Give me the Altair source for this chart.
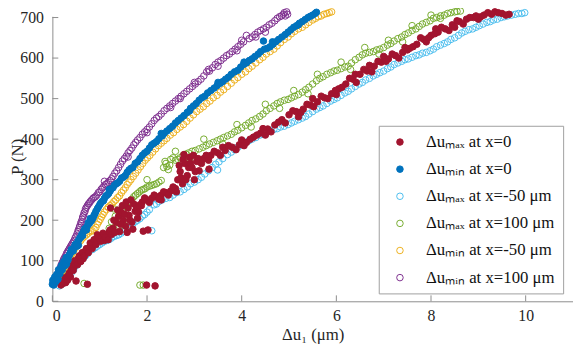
import altair as alt
import pandas as pd

labels = ["Δuₘₐₓ at x=0", "Δuₘᵢₙ at x=0", "Δuₘₐₓ at x=-50 μm",
          "Δuₘₐₓ at x=100 μm", "Δuₘᵢₙ at x=-50 μm", "Δuₘᵢₙ at x=100 μm"]
colors = ["#A2142F", "#0072BD", "#4DBEEE", "#77AC30", "#EDB120", "#7E2F8E"]
fills = ["#A2142F", "#0072BD", "transparent", "transparent", "transparent", "transparent"]
sizes = [44, 44, 20, 20, 20, 20]

x_ticks = [0, 2, 4, 6, 8, 10]
y_ticks = [0, 100, 200, 300, 400, 500, 600, 700]

# Δu_max at x=0 (dark red, filled)
red_pts = [
    [0.18, 40], [0.22, 44], [0.25, 50], [0.28, 46], [0.30, 56], [0.33, 62], [0.36, 70], [0.38, 60],
    [0.40, 78], [0.42, 88], [0.45, 84], [0.48, 92], [0.52, 98], [0.55, 106], [0.58, 102], [0.62, 112],
    [0.65, 105], [0.66, 118], [0.70, 124], [0.74, 126], [0.78, 132], [0.82, 138], [0.86, 142], [0.90, 148],
    [0.95, 150], [0.95, 164], [1.00, 156], [1.05, 160], [1.10, 150], [1.15, 160], [1.20, 170],
    [1.28, 180], [1.35, 195], [1.40, 210], [1.45, 220], [1.50, 200], [1.55, 185], [1.60, 230], [1.62, 212],
    [1.68, 195], [1.72, 240], [1.75, 222], [1.80, 205], [1.85, 238], [1.42, 172], [1.58, 170], [1.70, 178],
    [1.90, 245], [2.00, 250], [2.10, 254], [2.20, 258], [2.30, 262], [2.30, 250], [2.40, 268], [2.50, 272],
    [2.60, 278], [2.65, 300], [2.70, 320], [2.75, 290], [2.80, 340], [2.85, 310], [2.90, 355], [2.95, 330],
    [3.00, 300], [3.05, 345], [2.78, 362], [3.10, 322], [3.20, 352], [3.35, 360], [3.50, 366], [3.60, 380],
    [3.65, 372], [3.80, 380], [3.95, 386], [4.00, 398], [4.10, 392], [4.25, 405], [4.40, 415], [4.50, 410],
    [4.55, 425], [4.70, 435], [4.85, 448], [5.00, 460], [5.15, 468], [5.20, 455], [5.30, 474], [5.45, 484],
    [5.50, 500], [5.60, 492], [5.75, 502], [5.90, 512], [6.00, 510], [6.05, 524], [6.20, 536], [6.35, 548],
    [6.40, 560], [6.50, 560], [6.65, 568], [6.70, 582], [6.80, 580], [6.95, 590], [7.00, 604], [7.10, 598],
    [7.25, 606], [7.40, 614], [7.50, 620], [7.55, 624], [7.70, 634], [7.85, 646], [7.90, 640], [8.00, 656],
    [8.10, 672], [8.15, 664], [8.30, 672], [8.45, 682], [8.50, 676], [8.60, 690], [8.75, 696], [8.90, 700],
    [9.00, 696], [9.05, 702], [9.20, 712], [9.35, 714], [9.50, 710], [9.65, 708],
    [0.50, 50], [0.74, 42], [1.99, 40], [2.17, 38], [1.92, 173], [2.02, 176], [1.23, 230], [3.31, 326],
    [0.20, 48], [0.27, 58], [0.32, 52], [0.35, 64], [0.44, 76], [0.47, 100], [0.53, 90], [0.57, 112],
    [0.60, 98], [0.63, 120], [0.68, 112], [0.72, 130], [0.76, 120], [0.80, 144], [0.84, 130], [0.88, 152],
    [0.92, 140], [0.97, 158], [1.02, 148], [1.07, 168], [1.12, 158], [1.18, 152], [1.22, 176], [1.25, 165],
    [1.30, 200], [1.32, 170], [1.38, 225], [1.44, 190], [1.48, 236], [1.52, 215], [1.56, 245], [1.64, 200],
    [1.66, 250], [1.78, 230], [1.82, 220], [1.88, 236], [1.95, 255], [2.05, 244], [2.15, 262], [2.25, 252],
    [2.35, 270], [2.45, 262], [2.55, 282], [2.62, 270], [2.68, 335], [2.72, 305], [2.76, 350], [2.82, 300],
    [2.88, 330], [2.92, 340], [2.98, 360], [3.02, 320], [3.08, 352], [3.15, 340], [3.25, 360], [3.30, 348],
    [3.42, 370], [3.55, 360], [3.72, 384], [3.88, 374], [4.05, 384], [4.18, 400], [4.32, 410], [4.45, 426],
    [4.62, 418], [4.78, 442], [4.92, 440], [5.08, 470], [5.25, 466], [5.38, 486], [5.52, 480], [5.68, 506],
    [5.82, 500], [5.98, 520], [6.12, 528], [6.28, 550], [6.42, 540], [6.58, 572], [6.75, 566], [6.88, 592],
    [7.05, 592], [7.18, 610], [7.32, 600], [7.45, 626], [7.62, 628], [7.78, 650], [7.95, 650], [8.08, 660],
    [8.22, 676], [8.38, 668], [8.55, 692], [8.68, 684], [8.82, 700], [8.95, 704], [9.12, 706], [9.28, 708],
    [9.42, 712], [9.58, 706],
]

# Δu_min at x=0 (blue, filled)
blue_pts = [
    [0.00, 42], [0.02, 48], [0.04, 44], [0.06, 52], [0.08, 58], [0.10, 62], [0.12, 55], [0.14, 70],
    [0.17, 76], [0.20, 82], [0.22, 90], [0.25, 94], [0.28, 100], [0.30, 92], [0.31, 106], [0.35, 112],
    [0.38, 120], [0.42, 126], [0.46, 132], [0.50, 140], [0.54, 148], [0.55, 138], [0.58, 156], [0.62, 165],
    [0.66, 172], [0.70, 180], [0.74, 186], [0.78, 192], [0.80, 204], [0.82, 198], [0.86, 206], [0.90, 216],
    [0.95, 228], [1.00, 238], [1.05, 246], [1.10, 254], [1.16, 262], [1.20, 276], [1.22, 272], [1.28, 280],
    [1.35, 290], [1.42, 296], [1.50, 306], [1.58, 318], [1.66, 328], [1.70, 330], [1.75, 340], [1.85, 352],
    [1.95, 366], [2.05, 378], [2.15, 390], [2.25, 401], [2.30, 414], [2.36, 414], [2.48, 426], [2.60, 440],
    [2.72, 452], [2.85, 466], [2.90, 470], [2.98, 482], [3.10, 496], [3.22, 506], [3.35, 520], [3.48, 532],
    [3.50, 540], [3.60, 542], [3.72, 553], [3.85, 566], [3.98, 578], [4.05, 590], [4.10, 588], [4.22, 598],
    [4.35, 610], [4.46, 642], [4.48, 622], [4.60, 628], [4.65, 640], [4.72, 640], [4.85, 652], [4.98, 664],
    [5.10, 676], [5.20, 682], [5.22, 686], [5.34, 695], [5.45, 703], [5.55, 710],
    [0.01, 52], [0.03, 40], [0.05, 60], [0.07, 48], [0.09, 66], [0.11, 54], [0.13, 78], [0.16, 68],
    [0.19, 88], [0.21, 78], [0.24, 98], [0.27, 88], [0.29, 108], [0.33, 102], [0.37, 116], [0.40, 128],
    [0.44, 124], [0.48, 140], [0.52, 136], [0.56, 152], [0.60, 158], [0.64, 162], [0.68, 178], [0.72, 176],
    [0.76, 194], [0.84, 202], [0.88, 212], [0.92, 222], [0.97, 232], [1.02, 242], [1.08, 248], [1.13, 260],
    [1.19, 266], [1.25, 278], [1.31, 286], [1.38, 292], [1.46, 304], [1.54, 310], [1.62, 324], [1.80, 344],
    [1.90, 360], [2.00, 370], [2.10, 386], [2.20, 394], [2.32, 408], [2.42, 420], [2.54, 432], [2.66, 446],
    [2.78, 458], [2.92, 476], [3.04, 488], [3.16, 502], [3.28, 514], [3.42, 526], [3.55, 538], [3.66, 548],
    [3.78, 560], [3.92, 570], [4.04, 584], [4.16, 594], [4.28, 604], [4.40, 616], [4.54, 624], [4.66, 634],
    [4.78, 646], [4.92, 658], [5.04, 670], [5.16, 680], [5.28, 690], [5.40, 700], [5.50, 706], [5.58, 713],
]

# Δu_max at x=-50 μm (light blue, open)
lightblue_pts = [
    [0.15, 38], [0.25, 50], [0.35, 64], [0.45, 78], [0.55, 94], [0.65, 106], [0.75, 118], [0.85, 128],
    [0.95, 136], [1.05, 144], [1.15, 150], [1.25, 156], [1.35, 162], [1.45, 168], [1.55, 176], [1.65, 186],
    [1.75, 196], [1.85, 204], [1.95, 214], [2.05, 226], [2.15, 238], [2.25, 246], [2.40, 254], [2.55, 262],
    [2.70, 270], [2.85, 282], [3.00, 294], [3.15, 306], [3.30, 322], [3.45, 338], [3.60, 352], [3.70, 362],
    [3.85, 374], [4.00, 386], [4.15, 396], [4.30, 404], [4.45, 412], [4.60, 420], [4.75, 426], [4.90, 432],
    [5.05, 440], [5.20, 448], [5.35, 456], [5.50, 468], [5.65, 478], [5.80, 488], [5.95, 498], [6.10, 508],
    [6.25, 518], [6.40, 530], [6.55, 540], [6.70, 550], [6.85, 560], [7.00, 568], [7.15, 578], [7.30, 588],
    [7.45, 596], [7.60, 602], [7.75, 608], [7.90, 614], [8.05, 622], [8.20, 632], [8.35, 640], [8.50, 650],
    [8.65, 662], [8.80, 670], [8.95, 676], [9.10, 684], [9.25, 690], [9.40, 696], [9.55, 702], [9.70, 706],
    [9.85, 710], [9.98, 712], [2.10, 174], [3.49, 324],
    [0.20, 42], [0.30, 58], [0.40, 70], [0.50, 88], [0.60, 100], [0.70, 112], [0.80, 126], [0.90, 132],
    [1.00, 140], [1.10, 148], [1.20, 152], [1.30, 160], [1.40, 164], [1.50, 172], [1.60, 180], [1.70, 192],
    [1.80, 200], [1.90, 210], [2.00, 220], [2.20, 240], [2.32, 250], [2.48, 256], [2.62, 268], [2.78, 276],
    [2.92, 290], [3.08, 300], [3.22, 314], [3.38, 330], [3.52, 344], [3.78, 368], [3.92, 380], [4.08, 392],
    [4.22, 400], [4.38, 410], [4.52, 416], [4.68, 424], [4.82, 430], [4.98, 436], [5.12, 444], [5.28, 452],
    [5.42, 462], [5.58, 474], [5.72, 482], [5.88, 494], [6.02, 502], [6.18, 514], [6.32, 524], [6.48, 536],
    [6.62, 546], [6.78, 556], [6.92, 564], [7.08, 574], [7.22, 584], [7.38, 592], [7.52, 598], [7.68, 606],
    [7.82, 612], [7.98, 618], [8.12, 628], [8.28, 636], [8.42, 646], [8.58, 656], [8.72, 666], [8.88, 672],
    [9.02, 680], [9.18, 688], [9.32, 694], [9.48, 700], [9.62, 704], [9.78, 708], [9.92, 710],
]

# Δu_max at x=100 μm (green, open)
green_pts = [
    [0.25, 56], [0.35, 70], [0.45, 86], [0.55, 100], [0.65, 114], [0.75, 128], [0.85, 140], [0.95, 150],
    [1.05, 156], [1.15, 165], [1.25, 196], [1.30, 228], [1.36, 182], [1.40, 205], [1.45, 215], [1.50, 190],
    [1.55, 225], [1.60, 240], [1.68, 252], [1.76, 262], [1.84, 270], [1.92, 276], [2.00, 282], [2.10, 286],
    [2.20, 290], [2.30, 298], [2.35, 330], [2.40, 340], [2.45, 325], [2.50, 350], [2.60, 348], [2.70, 354],
    [2.82, 363], [2.95, 370], [3.10, 376], [3.25, 384], [3.40, 392], [3.55, 400], [3.70, 408], [3.85, 418],
    [4.00, 428], [4.15, 440], [4.30, 450], [4.45, 462], [4.60, 476], [4.75, 488], [4.90, 496], [5.05, 502],
    [5.20, 510], [5.35, 522], [5.50, 536], [5.65, 550], [5.80, 560], [5.95, 568], [6.10, 574], [6.25, 580],
    [6.40, 596], [6.55, 608], [6.70, 614], [6.85, 620], [7.00, 626], [7.15, 636], [7.30, 648], [7.45, 658],
    [7.60, 668], [7.75, 678], [7.90, 688], [8.05, 698], [8.20, 704], [8.35, 710], [8.50, 714], [8.62, 716],
    [0.67, 44], [1.85, 40], [1.92, 40],
    [0.30, 62], [0.40, 78], [0.50, 94], [0.60, 108], [0.70, 122], [0.80, 134], [0.90, 146], [1.00, 154],
    [1.10, 162], [1.20, 180], [1.33, 210], [1.38, 195], [1.42, 185], [1.48, 222], [1.52, 208], [1.58, 232],
    [1.64, 246], [1.72, 258], [1.80, 266], [1.88, 274], [1.96, 278], [2.05, 284], [2.15, 288], [2.25, 294],
    [2.38, 345], [2.42, 332], [2.48, 336], [2.55, 354], [2.65, 350], [2.76, 360], [2.88, 366], [3.02, 372],
    [3.18, 380], [3.32, 388], [3.48, 396], [3.62, 404], [3.78, 412], [3.92, 422], [4.08, 434], [4.22, 446],
    [4.38, 456], [4.52, 470], [4.68, 482], [4.82, 492], [4.98, 498], [5.12, 506], [5.28, 516], [5.42, 528],
    [5.58, 544], [5.72, 554], [5.88, 564], [6.02, 570], [6.18, 578], [6.32, 588], [6.48, 602], [6.62, 612],
    [6.78, 616], [6.92, 622], [7.08, 632], [7.22, 642], [7.38, 652], [7.52, 662], [7.68, 672], [7.82, 684],
    [7.98, 692], [8.12, 700], [8.28, 706], [8.42, 712], [8.55, 715],
    [2.00, 300], [2.60, 370], [3.20, 400], [3.90, 436], [4.50, 486], [5.10, 520], [5.60, 560], [6.10, 590],
    [6.60, 626], [7.10, 644], [7.60, 680], [8.00, 706], [2.90, 352], [3.60, 388], [4.20, 430], [4.80, 476],
    [5.40, 512], [6.30, 572], [6.90, 610], [7.40, 640], [8.20, 698],
]

# Δu_min at x=-50 μm (orange, open)
orange_pts = [
    [0.10, 50], [0.15, 62], [0.20, 74], [0.26, 86], [0.32, 98], [0.38, 110], [0.44, 122], [0.52, 138],
    [0.60, 150], [0.68, 160], [0.76, 168], [0.84, 174], [0.92, 182], [0.98, 196], [1.04, 208], [1.10, 220],
    [1.18, 232], [1.26, 240], [1.34, 250], [1.42, 260], [1.50, 274], [1.58, 288], [1.66, 300], [1.76, 316],
    [1.86, 332], [1.96, 348], [2.06, 360], [2.18, 376], [2.30, 390], [2.42, 402], [2.56, 416], [2.70, 430],
    [2.84, 444], [2.98, 460], [3.12, 474], [3.26, 488], [3.40, 502], [3.55, 516], [3.70, 530], [3.85, 546],
    [4.00, 560], [4.15, 574], [4.30, 588], [4.45, 602], [4.60, 616], [4.75, 630], [4.90, 646], [5.05, 660],
    [5.20, 672], [5.35, 682], [5.50, 694], [5.62, 702], [5.74, 708], [5.85, 712],
    [0.12, 56], [0.17, 68], [0.23, 80], [0.29, 92], [0.35, 104], [0.41, 116], [0.48, 130], [0.56, 144],
    [0.64, 156], [0.72, 164], [0.80, 172], [0.88, 178], [0.95, 190], [1.01, 202], [1.07, 214], [1.14, 226],
    [1.22, 236], [1.30, 246], [1.38, 256], [1.46, 268], [1.54, 280], [1.62, 294], [1.71, 308], [1.81, 324],
    [1.91, 340], [2.01, 354], [2.12, 368], [2.24, 384], [2.36, 396], [2.49, 410], [2.63, 424], [2.77, 436],
    [2.91, 452], [3.05, 468], [3.19, 480], [3.33, 494], [3.48, 508], [3.62, 522], [3.78, 538], [3.92, 552],
    [4.08, 566], [4.22, 580], [4.38, 596], [4.52, 610], [4.68, 622], [4.82, 638], [4.98, 652], [5.12, 666],
    [5.28, 676], [5.42, 688], [5.56, 698], [5.68, 704], [5.80, 710], [5.90, 714],
]

# Δu_min at x=100 μm (purple, open)
purple_pts = [
    [0.03, 44], [0.06, 52], [0.09, 60], [0.12, 70], [0.15, 78], [0.18, 88], [0.21, 96], [0.24, 104],
    [0.28, 112], [0.32, 122], [0.36, 130], [0.40, 138], [0.44, 146], [0.48, 156], [0.52, 166], [0.55, 176],
    [0.58, 186], [0.61, 196], [0.64, 208], [0.67, 218], [0.70, 228], [0.74, 236], [0.78, 242], [0.83, 250],
    [0.88, 256], [0.94, 262], [1.00, 270], [1.06, 280], [1.12, 288], [1.18, 294], [1.25, 302], [1.32, 316],
    [1.40, 330], [1.48, 346], [1.56, 358], [1.64, 372], [1.72, 386], [1.80, 398], [1.90, 412], [2.00, 424],
    [2.10, 438], [2.20, 452], [2.30, 462], [2.42, 476], [2.54, 488], [2.66, 500], [2.78, 512], [2.90, 524],
    [3.02, 536], [3.14, 548], [3.26, 566], [3.38, 576], [3.50, 590], [3.62, 600], [3.74, 610], [3.86, 622],
    [3.98, 634], [4.10, 656], [4.22, 652], [4.34, 664], [4.46, 672], [4.58, 682], [4.70, 692], [4.80, 702],
    [4.88, 708], [4.92, 704], [4.95, 714],
    [0.05, 48], [0.08, 56], [0.11, 64], [0.14, 74], [0.17, 82], [0.20, 92], [0.23, 100], [0.26, 108],
    [0.30, 118], [0.34, 126], [0.38, 134], [0.42, 142], [0.46, 150], [0.50, 160], [0.54, 172], [0.57, 182],
    [0.60, 192], [0.63, 202], [0.66, 212], [0.69, 222], [0.72, 232], [0.76, 240], [0.80, 246], [0.86, 254],
    [0.91, 258], [0.97, 268], [1.03, 276], [1.09, 284], [1.15, 290], [1.22, 298], [1.28, 308], [1.36, 322],
    [1.44, 338], [1.52, 352], [1.60, 366], [1.68, 378], [1.76, 392], [1.85, 404], [1.95, 418], [2.05, 430],
    [2.15, 446], [2.25, 456], [2.36, 470], [2.48, 482], [2.60, 494], [2.72, 506], [2.84, 518], [2.96, 530],
    [3.08, 542], [3.20, 556], [3.32, 568], [3.44, 584], [3.56, 594], [3.68, 606], [3.80, 616], [3.92, 628],
    [4.04, 640], [4.16, 648], [4.28, 658], [4.40, 668], [4.52, 676], [4.64, 686], [4.75, 698], [4.84, 704],
    [4.90, 712], [4.97, 708],
    [1.10, 296], [1.60, 356], [2.00, 416], [2.50, 478], [3.00, 540], [3.50, 580], [4.00, 644], [4.50, 664],
    [2.70, 500], [3.30, 572], [3.90, 618], [4.30, 652],
]

series_pts = [red_pts, blue_pts, lightblue_pts, green_pts, orange_pts, purple_pts]
draw_order = [2, 3, 4, 5, 0, 1]

rows = []
k = 0
for i in draw_order:
    for x, y in series_pts[i]:
        rows.append({"x": x, "y": y, "series": labels[i], "k": k})
        k += 1
df = pd.DataFrame(rows)

axis_gray = "#8c8c8c"
serif = "Liberation Serif, Times New Roman, serif"

xscale = alt.Scale(domain=[0, 11], nice=False, zero=False)
yscale = alt.Scale(domain=[0, 703], nice=False, zero=False)
xaxis = alt.Axis(values=x_ticks, ticks=False, grid=False, domainColor=axis_gray,
                 labelFont=serif, labelFontSize=16, labelColor="#262626", labelPadding=6,
                 title="Δu₁ (μm)", titleFont=serif, titleFontSize=17, titleFontWeight="normal",
                 titleColor="#262626", titleBaseline="alphabetic", titleY=39)
yaxis = alt.Axis(values=y_ticks, ticks=False, grid=False, domainColor=axis_gray,
                 labelFont=serif, labelFontSize=16, labelColor="#262626", labelPadding=9,
                 title="P (N)", titleFont=serif, titleFontSize=17, titleFontWeight="normal",
                 titleColor="#262626", titleBaseline="alphabetic", titleX=-30, titleY=142)

X = alt.X("x:Q", scale=xscale, axis=xaxis)
Y = alt.Y("y:Q", scale=yscale, axis=yaxis)

leg = alt.Legend(title=None, orient="none", legendX=331, legendY=111, padding=8,
                 strokeColor="#a0a0a0", fillColor="white", labelFont=serif, labelFontSize=17,
                 labelColor="#111111", rowPadding=9.5, labelOffset=18, symbolOffset=5,
                 labelLimit=300, symbolType="circle", symbolStrokeWidth=1)

points = alt.Chart(df).mark_point(opacity=1, strokeWidth=1, shape="circle").encode(
    x=X,
    y=Y,
    stroke=alt.Stroke("series:N", scale=alt.Scale(domain=labels, range=colors), legend=leg),
    fill=alt.Fill("series:N", scale=alt.Scale(domain=labels, range=fills), legend=leg),
    size=alt.Size("series:N", scale=alt.Scale(domain=labels, range=sizes), legend=leg),
    order=alt.Order("k:Q"),
)

xt = alt.Chart(pd.DataFrame({"x": x_ticks})).mark_rule(color=axis_gray, strokeWidth=1).encode(
    x=X, y=alt.value(289), y2=alt.value(283)
)
yt = alt.Chart(pd.DataFrame({"y": y_ticks})).mark_rule(color=axis_gray, strokeWidth=1).encode(
    y=Y, x=alt.value(0), x2=alt.value(6)
)

chart = alt.layer(xt, yt, points).properties(
    width=528, height=289,
    autosize=alt.AutoSizeParams(type="none"),
    padding={"left": 45, "top": 6, "right": 0, "bottom": 50},
).configure_view(stroke=None)

chart.save("out.html", embed_options={"renderer": "svg", "actions": False})
